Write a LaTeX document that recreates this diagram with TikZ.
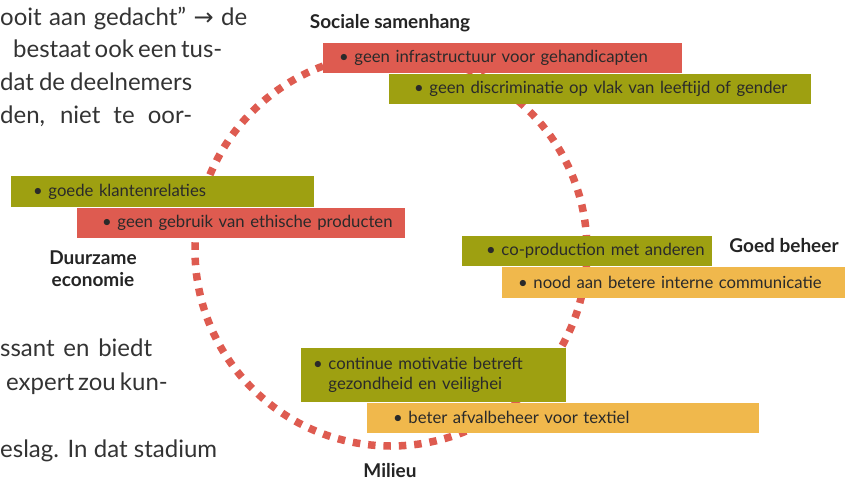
\documentclass[tikz,border=0pt]{standalone}
\usepackage{fontspec}
\setmainfont{Lato}
\newfontfamily\arrowfont{DejaVu Sans}
\definecolor{notered}{HTML}{DE5B50}
\definecolor{noteolive}{HTML}{9EA011}
\definecolor{noteyellow}{HTML}{F0B84C}
\definecolor{notetext}{HTML}{2A2A2A}
\definecolor{bodytext}{HTML}{333333}
\definecolor{themetext}{HTML}{242424}
\newcommand{\bul}[1]{\hspace*{#1pt}\textbullet~}

\begin{document}
\begin{tikzpicture}[x=1pt,y=-1pt,
 note/.style={inner sep=0pt,anchor=north west,align=left,minimum height=30pt,
  font=\fontsize{16.7}{20}\selectfont,text=notetext},
 red note/.style={note,fill=notered},
 olive note/.style={note,fill=noteolive},
 yellow note/.style={note,fill=noteyellow},
 theme/.style={font=\bfseries\fontsize{19}{22}\selectfont,text=themetext,
  align=center,inner sep=0pt},
 body/.style={font=\fontsize{24}{33}\selectfont,text=bodytext,
  anchor=base west,inner sep=0pt}]

  \useasboundingbox (0,0) rectangle (849,483);

  \coordinate (hub) at (391,250);
  \draw[notered,line width=7.5pt,dash pattern=on 7.5pt off 7.9pt]
    (hub) circle[radius=196];

  \node[body] (t1) at (0,25) {\makebox[247pt][s]{ooit aan gedacht” {\arrowfont →} de}};
  \node[body] (t2) at (13,57) {\makebox[200pt][s]{bestaat ook een tus-}};
  \node[body] (t3) at (0,90) {\makebox[192pt][s]{dat de deelnemers}};
  \node[body] (t4) at (0,123) {\makebox[192pt][s]{den, niet te oor-}};
  \node[body] (t5) at (0,356) {\makebox[152pt][s]{ssant en biedt}};
  \node[body] (t6) at (6,390) {\makebox[159pt][s]{expert zou kun-}};
  \node[body] (t7) at (0,457) {\makebox[217pt][s]{eslag. In dat stadium}};

  \node[red note,text width=359pt] (infra) at (323,43)
    {\bul{16}geen infrastructuur voor gehandicapten};
  \node[olive note,text width=422pt] (discrim) at ([xshift=66pt]infra.south west)
    {\bul{25}geen discriminatie op vlak van leeftijd of gender};
  \node[olive note,text width=303pt,minimum height=31pt] (clients) at (11,176)
    {\bul{22}goede klantenrelaties};
  \node[red note,text width=328pt] (ethics) at ([xshift=66pt]clients.south west)
    {\bul{25}geen gebruik van ethische producten};
  \node[olive note,text width=250pt] (coprod) at (462,236)
    {\bul{24}co-production met anderen};
  \node[yellow note,text width=343pt,minimum height=31pt] (commun) at ([xshift=40pt]coprod.south west)
    {\bul{16}nood aan betere interne communicatie};
  \node[olive note,text width=265pt,minimum height=54pt] (motiv) at (301,348)
    {\bul{12}\begin{tabular}[t]{@{}l@{}}continue motivatie betreft\\gezondheid en veilighei\end{tabular}};
  \node[yellow note,text width=392pt] (waste) at ([xshift=66pt]motiv.south west)
    {\bul{26}beter afvalbeheer voor textiel};

  \node[theme,anchor=base] (social) at (390,28) {Sociale samenhang};
  \node[theme] (economy) at (93,269) {Duurzame\\economie};
  \node[theme,anchor=base] (governance) at (784,252) {Goed beheer};
  \node[theme,anchor=base] (environment) at (390,477) {Milieu};
\end{tikzpicture}
\end{document}
